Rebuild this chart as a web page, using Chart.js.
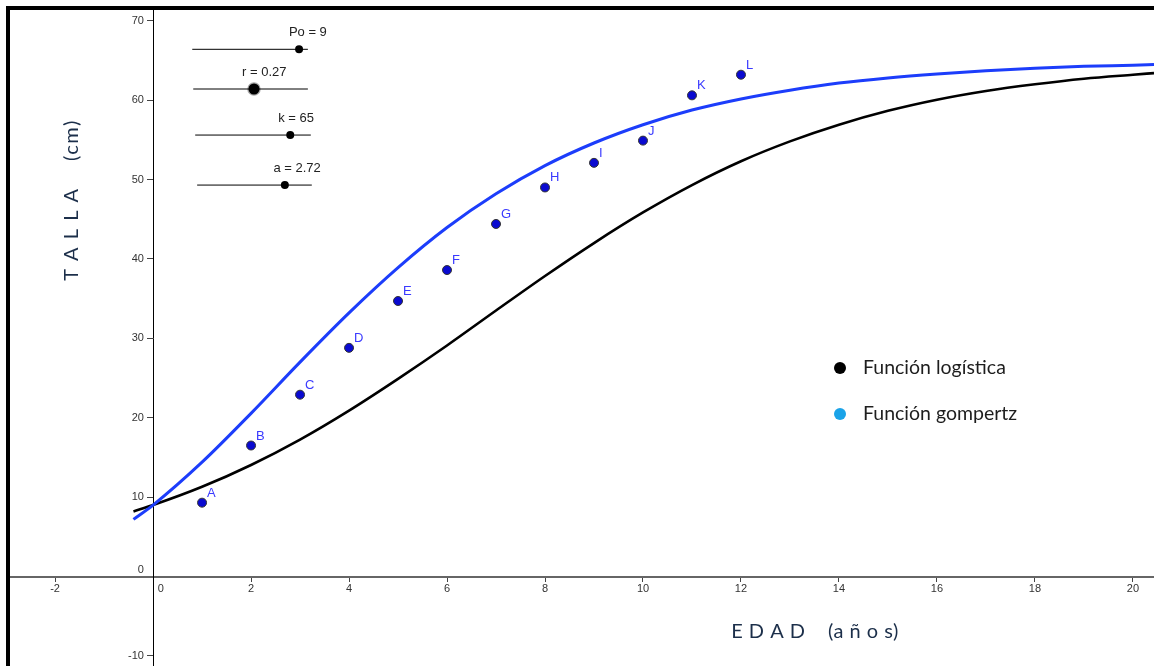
<!DOCTYPE html>
<html>
<head>
<meta charset="utf-8">
<script src="https://cdn.jsdelivr.net/npm/chart.js@4.4.1/dist/chart.umd.min.js"></script>
<style>
  html, body { margin: 0; padding: 0; background: #fff; }
  #frame {
    position: absolute; left: 6px; top: 6px;
    width: 1148px; height: 660px;
    border-top: 4px solid #000; border-left: 4px solid #000;
    overflow: hidden;
  }
  #grafico { display: block; }
</style>
</head>
<body>
<div id="frame"><canvas id="grafico" width="1144" height="656"></canvas></div>
<script>
// puntos medidos (edad en años, talla en cm)
const pointNames = ["A", "B", "C", "D", "E", "F", "G", "H", "I", "J", "K", "L"];
const ageYears = [1, 2, 3, 4, 5, 6, 7, 8, 9, 10, 11, 12];
const heightCm = [9.3, 16.5, 22.9, 28.8, 34.7, 38.6, 44.4, 49.0, 52.1, 54.9, 60.6, 63.2];

// curvas
const curveAges = [-0.4, 0, 1, 2, 3, 4, 5, 6, 7, 8, 9, 10, 11, 12, 13, 14, 15, 16, 17, 18, 19, 20, 20.43];
const logisticCm = [8.2, 9.0, 11.3, 14.05, 17.25, 20.9, 24.9, 29.1, 33.5, 37.85, 42.0, 45.85, 49.3, 52.3, 54.8, 56.9, 58.65, 60.05, 61.15, 62.0, 62.7, 63.2, 63.4];
const gompertzCm = [7.2, 9.0, 14.4, 20.55, 27.0, 33.2, 38.9, 43.95, 48.2, 51.75, 54.6, 56.9, 58.75, 60.15, 61.25, 62.15, 62.8, 63.3, 63.7, 64.0, 64.25, 64.4, 64.48];

// deslizadores
const sliderNames = ["Po = 9", "r = 0.27", "k = 65", "a = 2.72"];
const sliderFrom = [0.80, 0.82, 0.86, 0.90];
const sliderTo = [3.16, 3.16, 3.22, 3.24];
const sliderLevel = [66.4, 61.4, 55.6, 49.3];
const sliderKnob = [2.98, 2.06, 2.80, 2.69];
const sliderCaptionAt = [3.16, 2.27, 2.92, 2.94];

// ejes
const xRange = [-2.92, 20.43];
const yRange = [-11.27, 71.35];
const xStep = 2;
const yStep = 10;

const legendNames = ["Función logística", "Función gompertz"];
const legendColors = ["#000000", "#1aa3e8"];

const toXY = (xs, ys) => xs.map((v, i) => ({ x: v, y: ys[i] }));

const datasets = [
  {
    type: "line", label: "logística", data: toXY(curveAges, logisticCm),
    borderColor: "#000", borderWidth: 2.6, pointRadius: 0,
    cubicInterpolationMode: "monotone", order: 3
  },
  {
    type: "line", label: "gompertz", data: toXY(curveAges, gompertzCm),
    borderColor: "#1c3dfb", borderWidth: 3, pointRadius: 0,
    cubicInterpolationMode: "monotone", order: 2
  },
  {
    type: "scatter", label: "puntos", data: toXY(ageYears, heightCm),
    backgroundColor: "#0a0ad0", borderColor: "#333", borderWidth: 1,
    pointRadius: 4.5, order: 1
  }
];

sliderNames.forEach((name, i) => {
  datasets.push({
    type: "line", label: name,
    data: [{ x: sliderFrom[i], y: sliderLevel[i] }, { x: sliderTo[i], y: sliderLevel[i] }],
    borderColor: "#000", borderWidth: 1, pointRadius: 0, order: 1
  });
});

datasets.push({
  type: "scatter", label: "knobs", data: toXY(sliderKnob, sliderLevel),
  backgroundColor: "#000",
  borderColor: ["#000", "rgba(0,0,0,0.35)", "#000", "#000"],
  borderWidth: [0, 2.5, 0, 0],
  pointRadius: [4, 5.5, 4, 4],
  order: 0
});

// textos extra: nombres de puntos, deslizadores, leyenda y títulos
const annotate = {
  id: "annotate",
  afterDatasetsDraw(chart) {
    const { ctx, scales: { x, y }, chartArea } = chart;
    ctx.save();

    ctx.font = '13px "Liberation Sans", Arial, sans-serif';
    ctx.fillStyle = "#3a3aff";
    ctx.textAlign = "left";
    ctx.textBaseline = "alphabetic";
    pointNames.forEach((n, i) => {
      ctx.fillText(n, x.getPixelForValue(ageYears[i]) + 5, y.getPixelForValue(heightCm[i]) - 6);
    });

    ctx.font = '13px "Liberation Sans", Arial, sans-serif';
    ctx.fillStyle = "#222";
    ctx.textAlign = "center";
    ctx.textBaseline = "middle";
    sliderNames.forEach((n, i) => {
      ctx.fillText(n, x.getPixelForValue(sliderCaptionAt[i]), y.getPixelForValue(sliderLevel[i]) - 17);
    });

    ctx.font = '19.5px Lato, "Open Sans", sans-serif';
    ctx.textAlign = "left";
    legendNames.forEach((n, i) => {
      const ly = chartArea.top + 358 + i * 46;
      ctx.beginPath();
      ctx.fillStyle = legendColors[i];
      ctx.arc(chartArea.left + 830, ly, 6, 0, Math.PI * 2);
      ctx.fill();
      ctx.fillStyle = "#1e1e1e";
      ctx.fillText(n, chartArea.left + 853, ly);
    });

    ctx.font = '20px Lato, "Open Sans", sans-serif';
    ctx.fillStyle = "#1c2f4a";
    ctx.textAlign = "center";
    ctx.letterSpacing = "0.5px";
    ctx.fillText("E D A D    (a ñ o s)", chartArea.left + 805, chartArea.top + 622);

    ctx.letterSpacing = "1.5px";
    ctx.translate(chartArea.left + 62, chartArea.top + 190);
    ctx.rotate(-Math.PI / 2);
    ctx.fillText("T A L L A    (cm)", 0, 0);

    ctx.restore();
  }
};

const tickFont = { family: '"Liberation Sans", Arial, sans-serif', size: 11 };

// los ejes van por el centro: que no reserven margen alrededor
const noPadding = s => { s.paddingTop = 0; s.paddingBottom = 0; s.paddingLeft = 0; s.paddingRight = 0; };

const grafico = new Chart(document.getElementById("grafico"), {
  data: { datasets },
  options: {
    responsive: false,
    devicePixelRatio: 1,
    animation: false,
    layout: { padding: 0, autoPadding: false },
    plugins: { legend: { display: false }, tooltip: { enabled: false } },
    scales: {
      x: {
        type: "linear", position: { y: 0 },
        min: xRange[0], max: xRange[1],
        afterFit: noPadding,
        border: { color: "#666", width: 2 },
        grid: { drawOnChartArea: false, drawTicks: true, tickLength: 4, color: "#444" },
        ticks: {
          stepSize: xStep, includeBounds: false, font: tickFont, color: "#333", padding: 2,
          maxRotation: 0, autoSkip: false,
          callback: v => (v === 0 ? "     0" : v)
        }
      },
      y: {
        type: "linear", position: { x: 0 },
        min: yRange[0], max: yRange[1],
        afterFit: noPadding,
        border: { color: "#000", width: 1 },
        grid: { drawOnChartArea: false, drawTicks: true, tickLength: 6, color: "#444" },
        ticks: {
          stepSize: yStep, includeBounds: false, font: tickFont, color: "#333", padding: 2,
          autoSkip: false,
          callback: v => (v === 0 ? ["0   ", ""] : v + "   ")
        }
      }
    }
  },
  plugins: [annotate]
});
</script>
</body>
</html>
